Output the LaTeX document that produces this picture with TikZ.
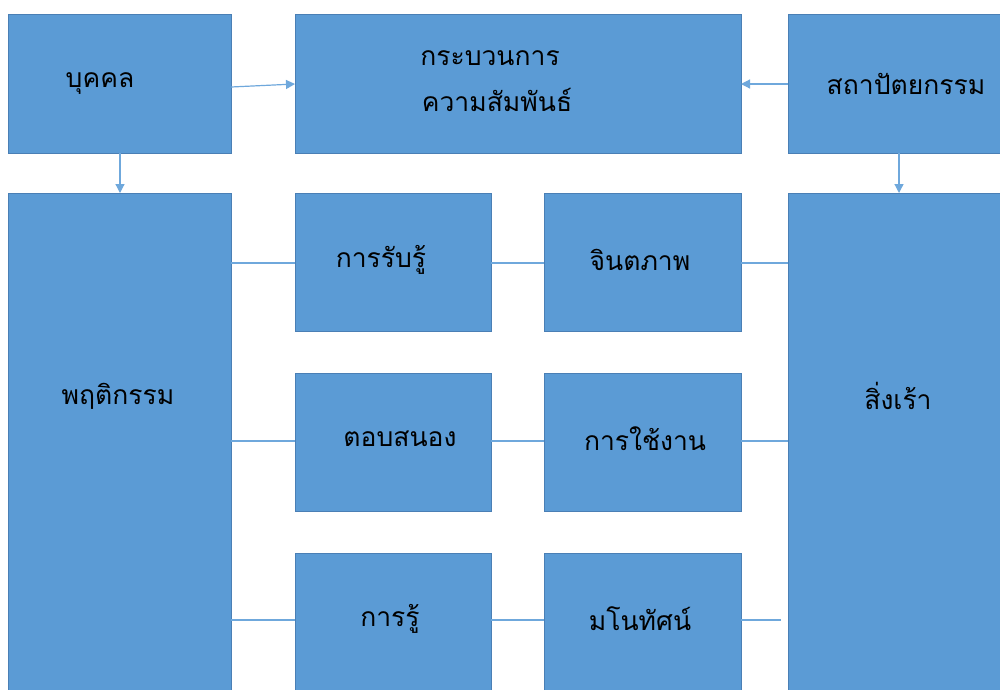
\documentclass[tikz,border=0pt]{standalone}
\usepackage{fontspec}
\newfontfamily\thaifont[Script=Thai]{Loma}
\usetikzlibrary{arrows.meta}
\definecolor{boxfill}{HTML}{5B9BD5}
\definecolor{boxline}{HTML}{4A7FB5}
\definecolor{conn}{HTML}{6FA8DC}
\tikzset{
  box/.style={draw=boxline, line width=0.9pt, fill=boxfill},
  lbl/.style={font=\thaifont\fontsize{26.5}{32}\selectfont, text=black, inner sep=0pt, align=center},
  link/.style={draw=conn, line width=1.2pt},
  arr/.style={link, -{Triangle[width=9pt,length=9pt]}}
}
\begin{document}
\begin{tikzpicture}[x=1pt,y=-1pt]
\useasboundingbox (0,0) rectangle (1000,689);
\clip (0,0) rectangle (1000,689);
\fill[white] (0,0) rectangle (1000,689);
% boxes
\path[box] (8,14) rectangle (231,153);
\path[box] (295,14) rectangle (741,153);
\path[box] (788,14) rectangle (1010,153);
\path[box] (8,193) rectangle (231,700);
\path[box] (295,193) rectangle (491,331);
\path[box] (544,193) rectangle (741,331);
\path[box] (788,193) rectangle (1010,700);
\path[box] (295,373) rectangle (491,511);
\path[box] (544,373) rectangle (741,511);
\path[box] (295,553) rectangle (491,700);
\path[box] (544,553) rectangle (741,700);
% anchor coordinates
\coordinate (bkR) at (231,87);
\coordinate (prL) at (295,84);
\coordinate (prR) at (741,84);
\coordinate (stL) at (788,84);
\coordinate (bkB) at (120,153);
\coordinate (phT) at (120,193);
\coordinate (stB) at (899,153);
\coordinate (srT) at (899,193);
% labels
\node[lbl] (t1) at (100,84) {บุคคล};
\node[lbl] (t2) at (490,58) {กระบวนการ};
\node[lbl] (t3) at (497,100) {ความสัมพันธ์};
\node[lbl] (t4) at (906,84) {สถาปัตยกรรม};
\node[lbl] (t5) at (118,396) {พฤติกรรม};
\node[lbl] (t6) at (381,260) {การรับรู้};
\node[lbl] (t7) at (640,260) {จินตภาพ};
\node[lbl] (t8) at (898,396) {สิ่งเร้า};
\node[lbl] (t9) at (400,439) {ตอบสนอง};
\node[lbl] (t10) at (645,439) {การใช้งาน};
\node[lbl] (t11) at (390,619) {การรู้};
\node[lbl] (t12) at (640,619) {มโนทัศน์};
% arrows
\draw[arr] (bkR) -- (prL);
\draw[arr] (stL) -- (prR);
\draw[arr] (bkB) -- (phT);
\draw[arr] (stB) -- (srT);
% horizontal links
\foreach \yy in {263,441,620}{
  \draw[link] (231,\yy) -- (295,\yy);
  \draw[link] (491,\yy) -- (544,\yy);
}
\draw[link] (741,263) -- (788,263);
\draw[link] (741,441) -- (788,441);
\draw[link] (741,620) -- (781,620);
\end{tikzpicture}
\end{document}
